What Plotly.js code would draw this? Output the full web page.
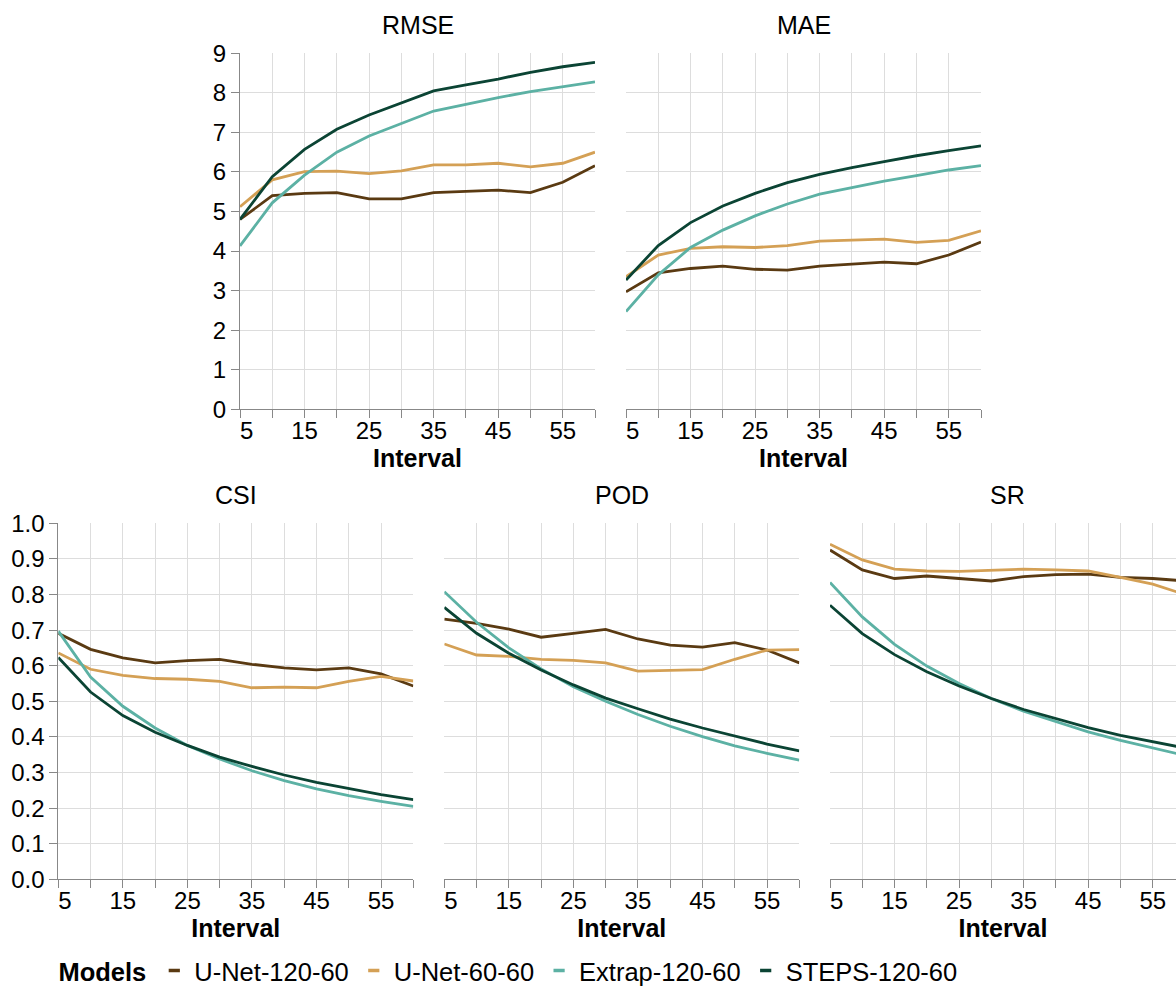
<!DOCTYPE html>
<html>
<head>
<meta charset="utf-8">
<script src="https://cdn.plot.ly/plotly-3.0.1.min.js"></script>
<style>html,body{margin:0;padding:0;background:#fff}#chart{width:1176px;height:987px}</style>
</head>
<body>
<div id="chart"></div>
<script>
// ---- data ----
const intervals = [5,10,15,20,25,30,35,40,45,50,55,60];
const models = ['U-Net-120-60','U-Net-60-60','Extrap-120-60','STEPS-120-60'];
const xTickVals = [5,10,15,20,25,30,35,40,45,50,55,60];
const xTickText = ['\u00A0\u00A05','','15','','25','','35','','45','','55',''];
const panelTitles = ['RMSE','MAE','CSI','POD','SR'];

const rmse_unet120 = [4.80,5.40,5.46,5.48,5.32,5.32,5.48,5.51,5.54,5.48,5.74,6.16];
const rmse_unet60  = [5.12,5.80,6.01,6.02,5.96,6.03,6.18,6.18,6.22,6.13,6.22,6.50];
const rmse_extrap  = [4.13,5.22,5.92,6.50,6.91,7.23,7.54,7.71,7.88,8.03,8.16,8.28];
const rmse_steps   = [4.80,5.88,6.57,7.08,7.44,7.75,8.05,8.20,8.35,8.52,8.66,8.77];

const mae_unet120 = [2.97,3.45,3.56,3.62,3.54,3.52,3.62,3.67,3.72,3.68,3.90,4.23];
const mae_unet60  = [3.35,3.90,4.07,4.11,4.09,4.14,4.25,4.28,4.30,4.22,4.27,4.51];
const mae_extrap  = [2.47,3.40,4.09,4.53,4.89,5.19,5.44,5.61,5.77,5.91,6.05,6.16];
const mae_steps   = [3.27,4.14,4.72,5.14,5.46,5.73,5.94,6.11,6.26,6.41,6.54,6.66];

const csi_unet120 = [0.691,0.646,0.622,0.608,0.614,0.618,0.604,0.594,0.588,0.594,0.577,0.543];
const csi_unet60  = [0.636,0.590,0.573,0.564,0.562,0.556,0.538,0.540,0.538,0.556,0.570,0.557];
const csi_extrap  = [0.697,0.568,0.486,0.425,0.376,0.338,0.305,0.277,0.254,0.235,0.219,0.205];
const csi_steps   = [0.623,0.526,0.460,0.413,0.376,0.343,0.317,0.293,0.272,0.254,0.238,0.224];

const pod_unet120 = [0.731,0.719,0.703,0.680,0.691,0.702,0.675,0.658,0.652,0.665,0.644,0.608];
const pod_unet60  = [0.661,0.630,0.626,0.618,0.615,0.608,0.585,0.588,0.589,0.618,0.644,0.645];
const pod_extrap  = [0.808,0.722,0.650,0.591,0.541,0.500,0.463,0.430,0.401,0.375,0.354,0.335];
const pod_steps   = [0.764,0.691,0.635,0.588,0.546,0.509,0.479,0.450,0.425,0.402,0.380,0.361];

const sr_unet120 = [0.925,0.869,0.845,0.852,0.845,0.838,0.850,0.856,0.857,0.848,0.845,0.838];
const sr_unet60  = [0.941,0.897,0.871,0.866,0.865,0.867,0.871,0.869,0.866,0.848,0.829,0.800];
const sr_extrap  = [0.834,0.737,0.660,0.599,0.550,0.508,0.472,0.442,0.414,0.390,0.369,0.348];
const sr_steps   = [0.770,0.690,0.631,0.583,0.543,0.508,0.477,0.451,0.426,0.404,0.386,0.369];

// ---- styling ----
const colors = ['#5a3a12','#d4a055','#5cb1a4','#0b4434'];
const FONT = 'Liberation Sans, Arial, Helvetica, sans-serif';
const W = 1176, H = 987;

const panels = [
  {vals:[rmse_unet120,rmse_unet60,rmse_extrap,rmse_steps], x0:240,  x1:595,  y0:53.3,  y1:409.3, yr:[0,9], yLabels:true,  xr:[5,60]},
  {vals:[mae_unet120,mae_unet60,mae_extrap,mae_steps],     x0:626,  x1:981,  y0:53.3,  y1:409.3, yr:[0,9], yLabels:false, xr:[5,60]},
  {vals:[csi_unet120,csi_unet60,csi_extrap,csi_steps],     x0:58.3, x1:413.3,y0:523.3, y1:879.3, yr:[0,1], yLabels:true,  xr:[5,60]},
  {vals:[pod_unet120,pod_unet60,pod_extrap,pod_steps],     x0:444.3,x1:799.3,y0:523.3, y1:879.3, yr:[0,1], yLabels:false, xr:[5,60]},
  {vals:[sr_unet120,sr_unet60,sr_extrap,sr_steps],         x0:830,  x1:1176, y0:523.3, y1:879.3, yr:[0,1], yLabels:false, xr:[5,5+55*346/355]}
];

const traces = [];
const layout = {
  width: W, height: H,
  margin: {l:0, r:0, t:0, b:0, autoexpand: false},
  paper_bgcolor: '#fff', plot_bgcolor: '#fff',
  font: {family: FONT, size: 24, color: '#000'},
  showlegend: true,
  legend: {
    orientation: 'h', xref: 'container', yref: 'container',
    x: 0.048, xanchor: 'left', y: 1 - 971/H, yanchor: 'middle',
    font: {family: FONT, size: 25.5, color: '#000'},
    title: {text: 'Models', side: 'left', font: {family: FONT, size: 25.5, color: '#000', weight: 700}},
    itemwidth: 30, tracegroupgap: 0, bgcolor: 'rgba(0,0,0,0)'
  },
  annotations: [],
  hovermode: false
};

panels.forEach((p, i) => {
  const n = i + 1;
  const xa = 'xaxis' + (n === 1 ? '' : n);
  const ya = 'yaxis' + (n === 1 ? '' : n);
  const xr = 'x' + (n === 1 ? '' : n);
  const yr = 'y' + (n === 1 ? '' : n);
  p.vals.forEach((v, k) => {
    traces.push({
      x: intervals, y: v, xaxis: xr, yaxis: yr, type: 'scatter', mode: 'lines',
      name: models[k], showlegend: false,
      line: {color: colors[k], width: 2.8}
    });
  });
  layout[xa] = {
    domain: [p.x0 / W, p.x1 / W], range: p.xr, anchor: yr,
    tickmode: 'array', tickvals: xTickVals, ticktext: xTickText,
    ticks: 'outside', ticklen: 8, tickcolor: '#888', tickwidth: 1,
    ticklabelstandoff: -8,
    showline: true, linecolor: '#888', linewidth: 1,
    showgrid: true, gridcolor: '#ddd', gridwidth: 1, zeroline: false,
    tickfont: {family: FONT, size: 24, color: '#000'},
    title: {text: 'Interval', font: {family: FONT, size: 25, color: '#000', weight: 700}, standoff: 6},
    automargin: false, fixedrange: true
  };
  layout[ya] = {
    domain: [1 - p.y1 / H, 1 - p.y0 / H], range: p.yr, anchor: xr,
    dtick: p.yr[1] === 9 ? 1 : 0.1, tick0: 0, tickformat: p.yr[1] === 9 ? 'd' : '.1f',
    showticklabels: p.yLabels,
    ticks: p.yLabels ? 'outside' : '', ticklen: 8, tickcolor: '#888', tickwidth: 1,
    showline: p.yLabels, linecolor: '#888', linewidth: 1,
    showgrid: true, gridcolor: '#ddd', gridwidth: 1, zeroline: false,
    tickfont: {family: FONT, size: 24, color: '#000'},
    automargin: false, fixedrange: true
  };
  const cx = i === 4 ? (830 + 1185) / 2 : (p.x0 + p.x1) / 2;
  layout.annotations.push({
    text: panelTitles[i], xref: 'paper', yref: 'paper',
    x: cx / W, y: 1 - (p.y0 - 28) / H, xanchor: 'center', yanchor: 'middle',
    showarrow: false, font: {family: FONT, size: 25, color: '#000'}
  });
});

// legend entries (short stroke symbols)
models.forEach((m, k) => {
  traces.push({
    x: [null], y: [null], xaxis: 'x', yaxis: 'y', type: 'scatter', mode: 'markers',
    name: m, showlegend: true,
    marker: {symbol: 'line-ew', size: 8, color: colors[k], line: {color: colors[k], width: 3.5}}
  });
});

Plotly.newPlot('chart', traces, layout, {staticPlot: true, displayModeBar: false});
</script>
</body>
</html>
